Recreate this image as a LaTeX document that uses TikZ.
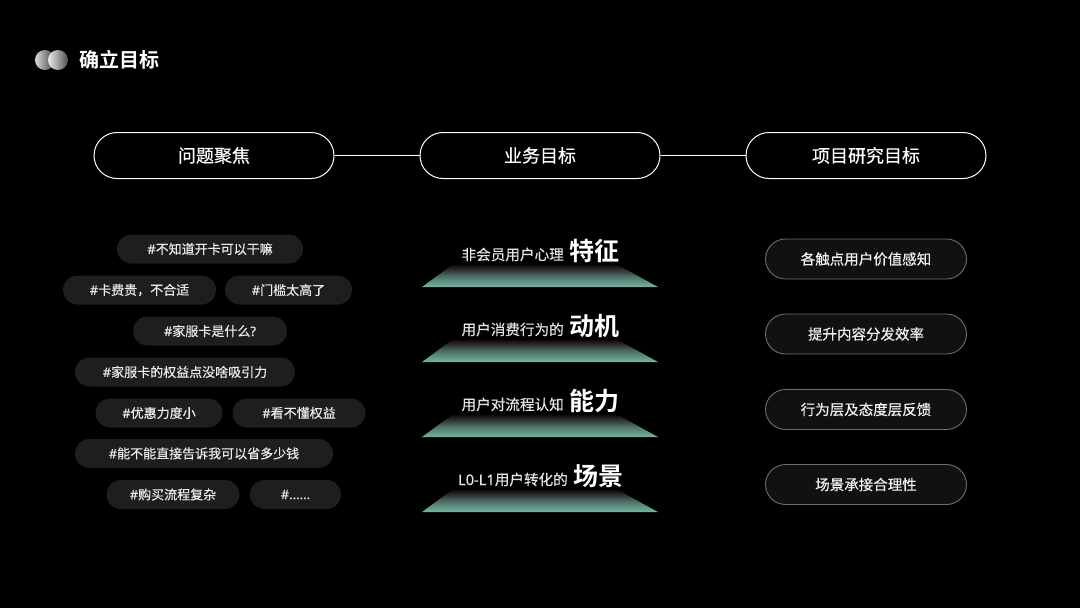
\documentclass[tikz,border=0pt]{standalone}
\usepackage{fontspec}
\setmainfont[FakeBold=0.35]{Noto Sans CJK SC}
\newfontfamily\cjkbold{Noto Sans CJK SC Bold}
\newfontfamily\lat[FakeBold=0.3]{Noto Sans}
\definecolor{tagfill}{HTML}{1E1E1E}
\definecolor{goalfill}{HTML}{111111}
\definecolor{goalline}{HTML}{6E6E6E}
\definecolor{teal}{HTML}{72B5A3}
\definecolor{midfade}{HTML}{4F6D65}
\definecolor{upfade}{HTML}{2C2E2D}
\definecolor{topfade}{HTML}{0C0C0C}
\pgfdeclareverticalshading{stagefade}{100bp}{color(0bp)=(teal); color(25bp)=(teal); color(50bp)=(midfade); color(65bp)=(upfade); color(75bp)=(topfade); color(100bp)=(topfade)}
\tikzset{
  x=1pt,y=-1pt,
  headbox/.style={draw=white,line width=1pt,fill=black,rounded corners=23pt,minimum width=240pt,minimum height=46pt,inner sep=0pt,text=white,font=\fontsize{18}{18}\selectfont},
  tagbox/.style={fill=tagfill,rounded corners=14.5pt,minimum height=29pt,inner sep=0pt,text=white!92!black,font=\fontsize{13}{13}\selectfont},
  goalbox/.style={draw=goalline,line width=.9pt,fill=goalfill,rounded corners=20pt,minimum width=201pt,minimum height=40pt,inner sep=0pt,text=white!95!black,font=\fontsize{14.5}{14.5}\selectfont},
  smalltxt/.style={inner sep=0pt,text=white!90!black,anchor=base east,font=\fontsize{14.6}{14.6}\selectfont},
  bigtxt/.style={inner sep=0pt,text=white,anchor=base west,font=\cjkbold\fontsize{25}{25}\selectfont},
  link/.style={draw=white,line width=1pt},
}
\newcommand{\stage}[1]{%
  \shade[shading=stagefade] (452,#1-22) -- (618,#1-22) -- (658,#1) -- (422,#1) -- cycle;}
\begin{document}
\begin{tikzpicture}
\useasboundingbox (0,0) rectangle (1080,608);
\fill[black] (0,0) rectangle (1080,608);
\shade[left color=white!85!black,right color=white!25!black] (45,60) circle (10);
\shade[left color=white!92!black,right color=white!32!black] (58,60) circle (10);
\node[anchor=west,inner sep=0pt,text=white,font=\cjkbold\fontsize{20}{20}\selectfont] (title) at (79,60) {确立目标};
\node[headbox] (h1) at (214,155.5) {问题聚焦};
\node[headbox] (h2) at (540,155.5) {业务目标};
\node[headbox] (h3) at (866,155.5) {项目研究目标};
\draw[link] (h1) -- (h2);
\draw[link] (h2) -- (h3);
\node[tagbox,minimum width=186pt] (t1) at (210,249) {{\lat\#}不知道开卡可以干嘛};
\node[tagbox,minimum width=153pt] (t2) at (139.5,290) {{\lat\#}卡费贵，不合适};
\node[tagbox,minimum width=127pt] (t3) at (288.5,290) {{\lat\#}门槛太高了};
\node[tagbox,minimum width=154pt] (t4) at (210,331) {{\lat\#}家服卡是什么{\lat ?}};
\node[tagbox,minimum width=220pt] (t5) at (185,372) {{\lat\#}家服卡的权益点没啥吸引力};
\node[tagbox,minimum width=127pt] (t6) at (159,413) {{\lat\#}优惠力度小};
\node[tagbox,minimum width=133pt] (t7) at (299,413) {{\lat\#}看不懂权益};
\node[tagbox,minimum width=258pt] (t8) at (204,453.5) {{\lat\#}能不能直接告诉我可以省多少钱};
\node[tagbox,minimum width=133pt] (t9) at (173,494.5) {{\lat\#}购买流程复杂};
\node[tagbox,minimum width=91pt] (t10) at (295.5,494.5) {{\lat\#......}};
\stage{287}\stage{362}\stage{437}\stage{512}
\node[smalltxt] (s1) at (564,260) {非会员用户心理};
\node[bigtxt] (b1) at (569,260) {特征};
\node[smalltxt] (s2) at (564,335) {用户消费行为的};
\node[bigtxt] (b2) at (569,335) {动机};
\node[smalltxt] (s3) at (564,410) {用户对流程认知};
\node[bigtxt] (b3) at (569,410) {能力};
\node[smalltxt] (s4) at (568,485) {{\lat L0-L1}用户转化的};
\node[bigtxt] (b4) at (573,485) {场景};
\node[goalbox] (g1) at (866,259) {各触点用户价值感知};
\node[goalbox] (g2) at (866,334) {提升内容分发效率};
\node[goalbox] (g3) at (866,409.5) {行为层及态度层反馈};
\node[goalbox] (g4) at (866,484.5) {场景承接合理性};
\end{tikzpicture}
\end{document}
